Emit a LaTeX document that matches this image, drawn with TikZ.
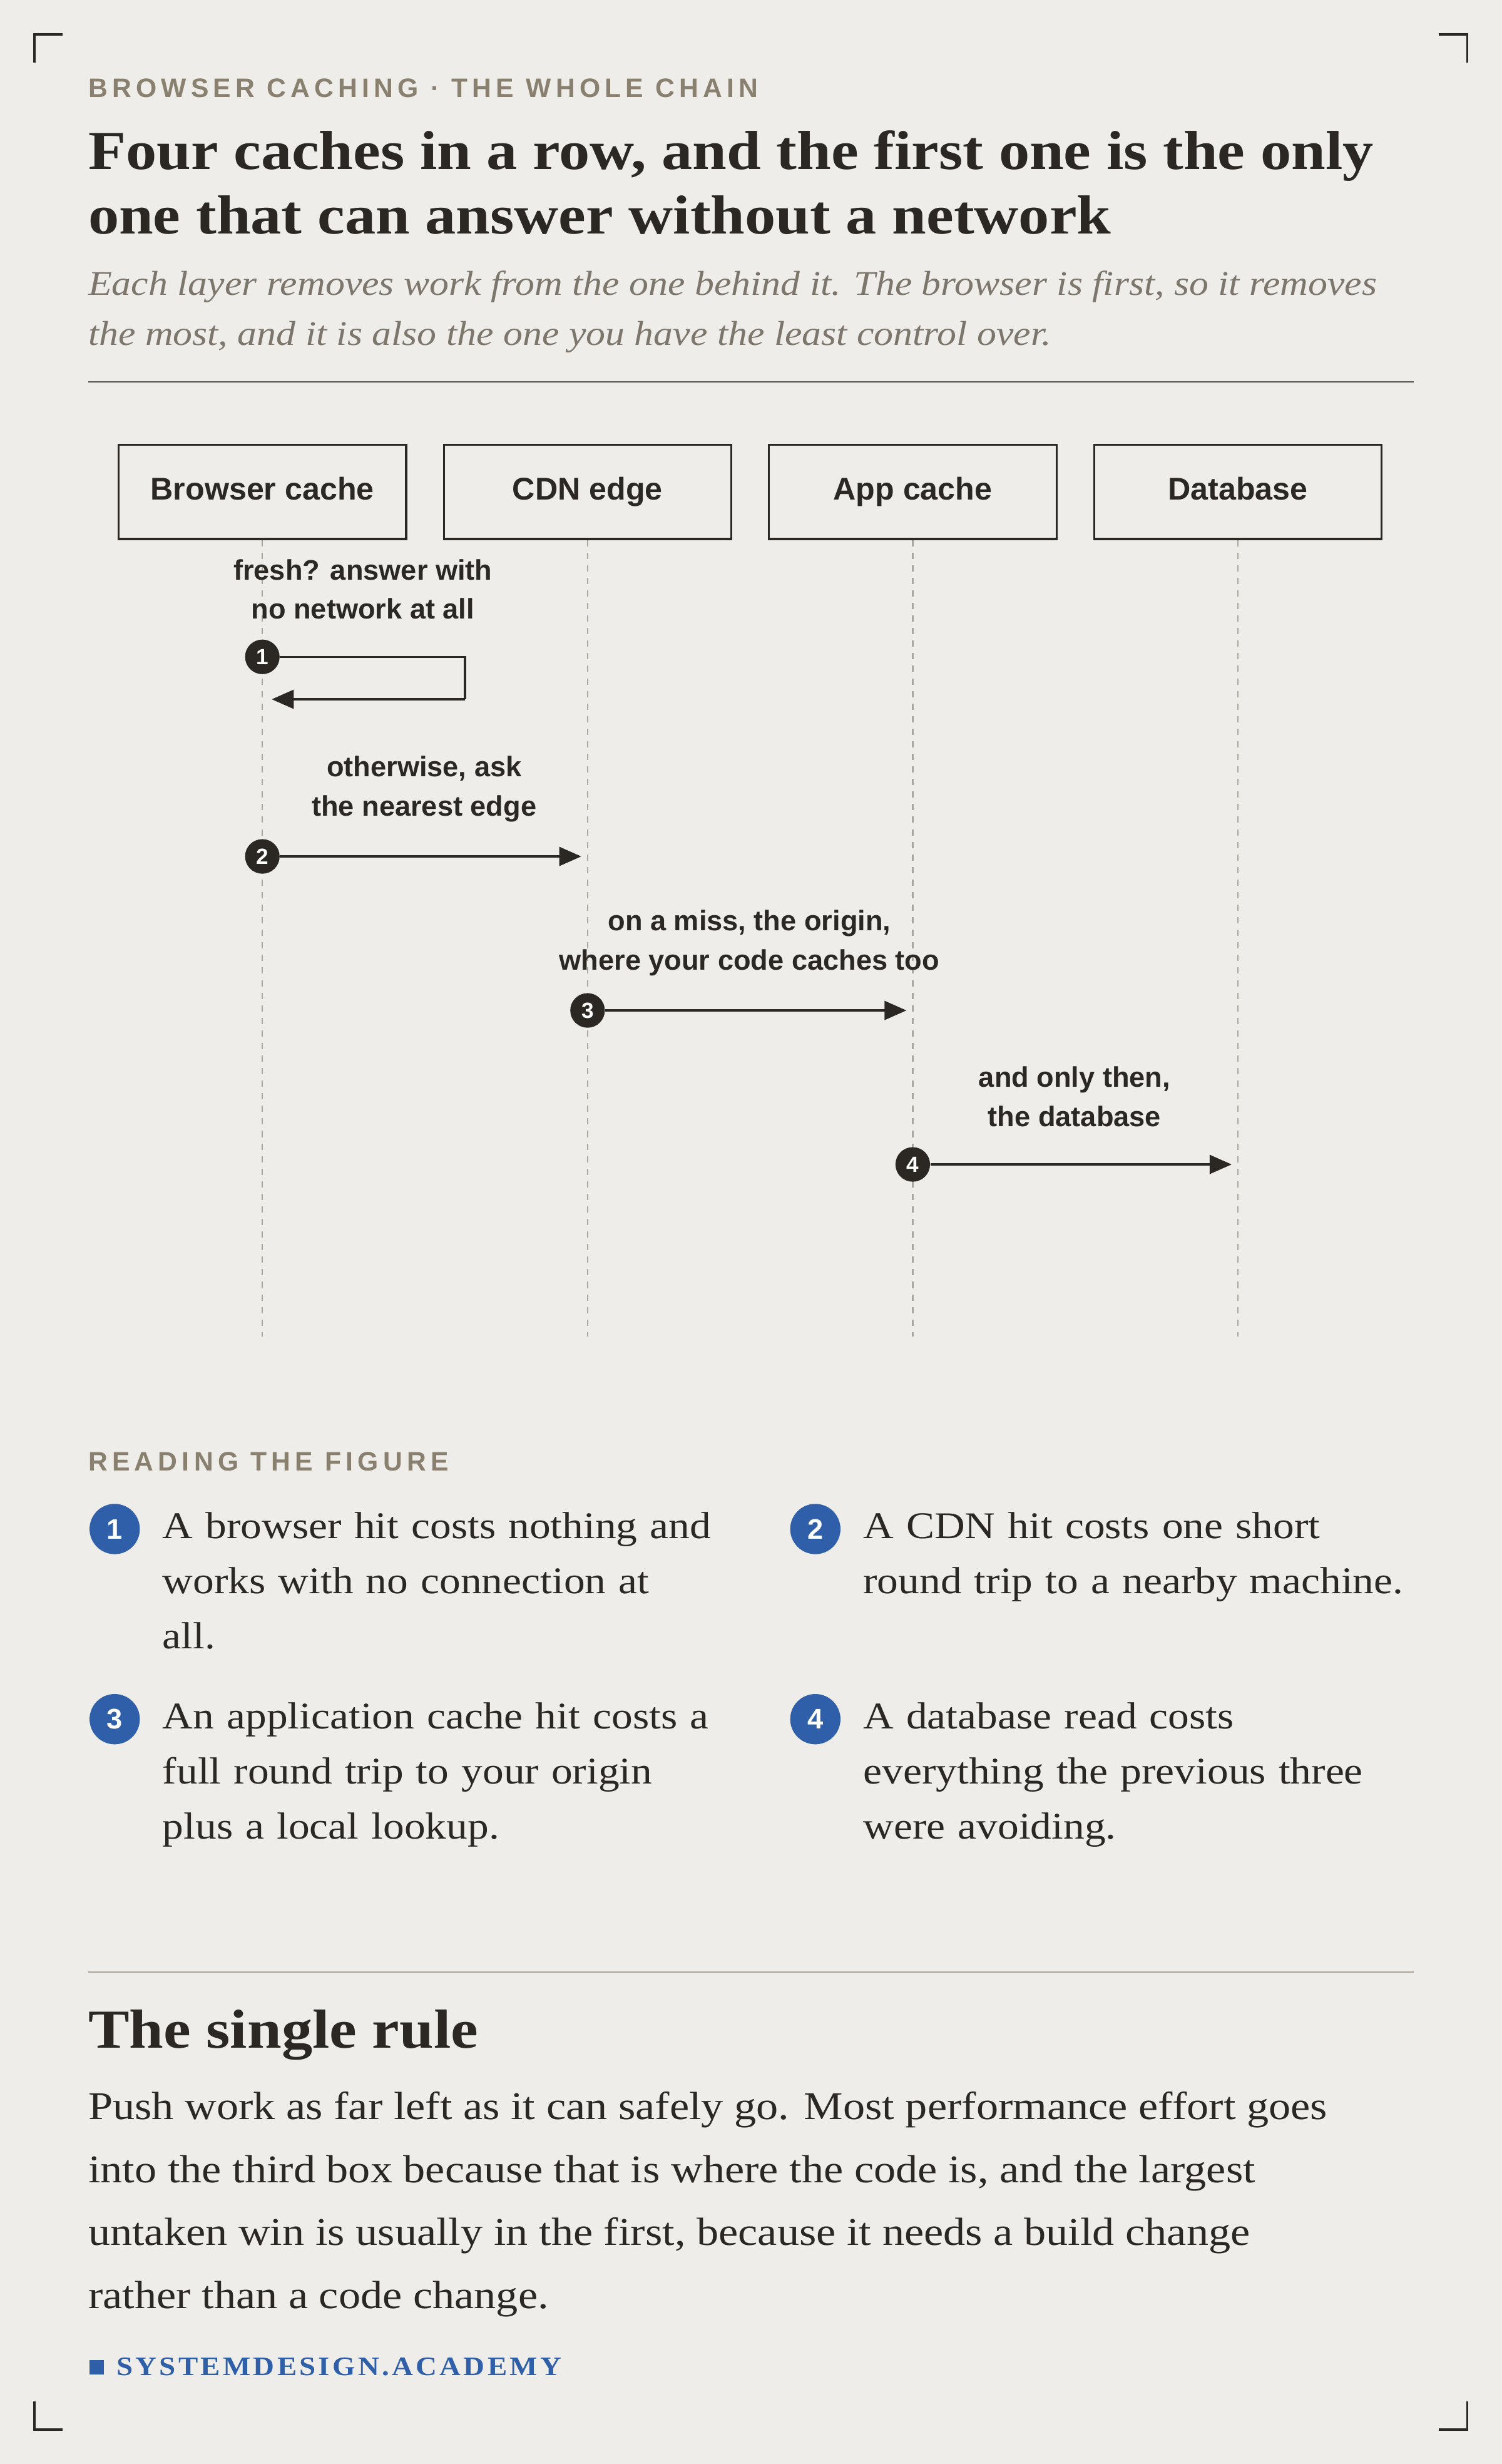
\documentclass[tikz,border=0pt]{standalone}
\usepackage{fontspec}
\setmainfont{Liberation Serif}[FakeStretch=1.12]
\setsansfont{Liberation Sans}
\newfontfamily\eyebrow[LetterSpace=17]{Liberation Sans}
\newfontfamily\footfont[LetterSpace=10,FakeStretch=1.1]{Liberation Serif}
\usetikzlibrary{arrows.meta}
\definecolor{bg}{HTML}{EFEDEA}
\definecolor{ink}{HTML}{2B2722}
\definecolor{muted}{HTML}{8A8070}
\definecolor{sub}{HTML}{7D766C}
\definecolor{brand}{HTML}{2E5FA8}
\definecolor{rulec}{HTML}{B8B2A8}
\begin{document}
\begin{tikzpicture}[x=1pt,y=-1pt,
  box/.style={draw=ink,line width=1.3pt,minimum width=183pt,minimum height=60pt,text height=14pt,text depth=4pt,font=\sffamily\bfseries\fontsize{20}{24}\selectfont,text=ink},
  life/.style={draw=muted!70,dash pattern=on 4pt off 4pt,line width=1pt},
  stepc/.style={circle,fill=ink,text=white,inner sep=0pt,minimum size=22pt,font=\sffamily\bfseries\fontsize{14}{14}\selectfont},
  lab/.style={align=center,font=\sffamily\bfseries\fontsize{18}{25}\selectfont,text=ink},
  arr/.style={draw=ink,line width=1.4pt,-{Triangle[length=14pt,width=12pt]}},
  leg/.style={circle,fill=brand,text=white,inner sep=0pt,minimum size=32pt,font=\sffamily\bfseries\fontsize{18}{18}\selectfont},
  legt/.style={anchor=north west,align=left,text width=380pt,font=\fontsize{24}{35}\selectfont,text=ink},
  eyeb/.style={anchor=west,text=muted,font=\eyebrow\bfseries\fontsize{17}{17}\selectfont,inner sep=0pt},
  corner/.style={draw=ink,line width=1.5pt}]
\fill[bg] (0,0) rectangle (956,1568);
\useasboundingbox (0,0) rectangle (956,1568);
% corners
\draw[corner] (22,40)--(22,22)--(40,22);
\draw[corner] (916,22)--(934,22)--(934,40);
\draw[corner] (22,1528)--(22,1546)--(40,1546);
\draw[corner] (916,1546)--(934,1546)--(934,1528);
% header
\node[eyeb] (eye) at (56,56) {BROWSER CACHING · THE WHOLE CHAIN};
\node[anchor=north west,align=left,text=ink,inner sep=0pt,font=\bfseries\fontsize{35}{41}\selectfont] (title) at (56,83) {Four caches in a row, and the first one is the only\\one that can answer without a network};
\node[anchor=north west,align=left,text=sub,inner sep=0pt,font=\itshape\fontsize{22}{32}\selectfont] (subt) at (56,172) {Each layer removes work from the one behind it. The browser is first, so it removes\\the most, and it is also the one you have the least control over.};
\draw[ink!80,line width=1pt] (56,243)--(900,243);
% boxes
\node[box] (b1) at (167,313) {Browser cache};
\node[box] (b2) at (374,313) {CDN edge};
\node[box] (b3) at (581,313) {App cache};
\node[box] (b4) at (788,313) {Database};
\foreach \i in {1,...,4}{\coordinate (e\i) at ([yshift=-507pt]b\i.south);}
\foreach \i in {1,...,4}{\draw[life] (b\i.south)--(e\i);}
% step 1
\node[lab] (l1) at (231,375) {fresh? answer with\\no network at all};
\node[stepc] (s1) at (167,418) {1};
\coordinate (s1a) at (296,418);
\coordinate (s1b) at (296,445);
\coordinate (s1c) at (173,445);
\draw[ink,line width=1.4pt] (s1)--(s1a)--(s1b);
\draw[arr] (s1b)--(s1c);
% step 2
\node[lab] (l2) at (270,502) {otherwise, ask\\the nearest edge};
\node[stepc] (s2) at (167,545) {2};
\coordinate (t2) at (370,545);
\draw[arr] (s2)--(t2);
% step 3
\node[lab] (l3) at (477,600) {on a miss, the origin,\\where your code caches too};
\node[stepc] (s3) at (374,643) {3};
\coordinate (t3) at (577,643);
\draw[arr] (s3)--(t3);
% step 4
\node[lab] (l4) at (684,698) {and only then,\\the database};
\node[stepc] (s4) at (581,741) {4};
\coordinate (t4) at (784,741);
\draw[arr] (s4)--(t4);
% reading
\node[eyeb] (rf) at (56,930) {READING THE FIGURE};
\node[leg] (g1) at (73,973) {1};
\node[legt] (t1) at (100,959) {A browser hit costs nothing and\\works with no connection at\\all.};
\node[leg] (g2) at (519,973) {2};
\node[legt] (tt2) at (546,959) {A CDN hit costs one short\\round trip to a nearby machine.};
\node[leg] (g3) at (73,1094) {3};
\node[legt] (tt3) at (100,1080) {An application cache hit costs a\\full round trip to your origin\\plus a local lookup.};
\node[leg] (g4) at (519,1094) {4};
\node[legt] (tt4) at (546,1080) {A database read costs\\everything the previous three\\were avoiding.};
\draw[rulec,line width=1pt] (56,1255)--(900,1255);
\node[anchor=west,inner sep=0pt,text=ink,font=\bfseries\fontsize{35}{40}\selectfont] (rule) at (56,1295) {The single rule};
\node[anchor=north west,align=left,inner sep=0pt,text=ink,font=\fontsize{25}{40}\selectfont] (para) at (56,1331) {Push work as far left as it can safely go. Most performance effort goes\\into the third box because that is where the code is, and the largest\\untaken win is usually in the first, because it needs a build change\\rather than a code change.};
\fill[brand] (57,1502) rectangle (66,1511);
\node[anchor=west,inner sep=0pt,text=brand,font=\footfont\bfseries\fontsize{17}{17}\selectfont] (foot) at (74,1506) {SYSTEMDESIGN.ACADEMY};
\end{tikzpicture}
\end{document}
